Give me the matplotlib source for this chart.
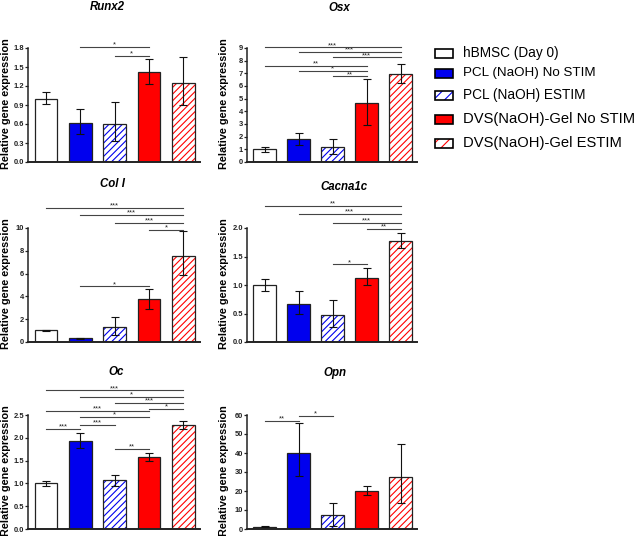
import matplotlib
matplotlib.use("Agg")
import matplotlib.pyplot as plt
from matplotlib.patches import Rectangle
from matplotlib.ticker import FormatStrFormatter, MultipleLocator

plt.rcParams['font.family'] = ['Liberation Sans', 'DejaVu Sans']
plt.rcParams['hatch.linewidth'] = 0.8

groups = ["hBMSC (Day 0)", "PCL (NaOH) No STIM", "PCL (NaOH) ESTIM",
          "DVS(NaOH)-Gel No STIM", "DVS(NaOH)-Gel ESTIM"]
face_colors = ["white", "#0000ee", "white", "#ff0000", "white"]
hatch_colors = [None, None, "#0000ee", None, "#ff0000"]

genes = ["Runx2", "Osx", "Col I", "Cacna1c", "Oc", "Opn"]

runx2_mean = [1.00, 0.61, 0.60, 1.42, 1.25]
runx2_lo = [0.09, 0.17, 0.27, 0.19, 0.35]
runx2_hi = [0.10, 0.22, 0.35, 0.21, 0.41]
runx2_sig = [(1, 3, 1.82, "*"), (2, 3, 1.67, "*")]

osx_mean = [1.00, 1.79, 1.20, 4.66, 6.97]
osx_lo = [0.18, 0.47, 0.58, 1.71, 0.73]
osx_hi = [0.18, 0.50, 0.62, 1.89, 0.77]
osx_sig = [(0, 4, 9.05, "***"), (1, 4, 8.66, "***"), (2, 4, 8.26, "***"),
           (0, 3, 7.61, "**"), (1, 3, 7.18, "*"), (2, 3, 6.76, "**")]

col1_mean = [1.02, 0.32, 1.29, 3.80, 7.51]
col1_lo = [0.07, 0.07, 0.71, 0.93, 1.66]
col1_hi = [0.07, 0.07, 0.93, 0.88, 2.20]
col1_sig = [(0, 4, 11.75, "***"), (1, 4, 11.15, "***"), (2, 4, 10.47, "***"),
            (3, 4, 9.85, "*"), (1, 3, 4.88, "*")]

cacna_mean = [1.00, 0.67, 0.47, 1.13, 1.78]
cacna_lo = [0.10, 0.17, 0.20, 0.13, 0.13]
cacna_hi = [0.11, 0.22, 0.26, 0.17, 0.14]
cacna_sig = [(0, 4, 2.39, "**"), (1, 4, 2.25, "***"), (2, 4, 2.09, "***"),
             (3, 4, 1.98, "**"), (2, 3, 1.36, "*")]

oc_mean = [1.00, 1.94, 1.07, 1.58, 2.27]
oc_lo = [0.05, 0.16, 0.13, 0.09, 0.08]
oc_hi = [0.05, 0.17, 0.11, 0.09, 0.10]
oc_sig = [(0, 4, 3.04, "***"), (1, 4, 2.90, "*"), (2, 4, 2.76, "***"),
          (3, 4, 2.63, "*"), (0, 3, 2.59, "***"), (1, 3, 2.45, "*"),
          (1, 2, 2.29, "***"), (0, 1, 2.19, "***"), (2, 3, 1.75, "**")]

opn_mean = [1.2, 39.8, 7.5, 20.2, 27.5]
opn_lo = [0.3, 11.7, 5.7, 2.1, 13.6]
opn_hi = [0.3, 15.8, 6.2, 2.3, 17.1]
opn_sig = [(0, 1, 57.0, "**"), (1, 2, 59.5, "*")]

means = [runx2_mean, osx_mean, col1_mean, cacna_mean, oc_mean, opn_mean]
lows = [runx2_lo, osx_lo, col1_lo, cacna_lo, oc_lo, opn_lo]
highs = [runx2_hi, osx_hi, col1_hi, cacna_hi, oc_hi, opn_hi]
sigs = [runx2_sig, osx_sig, col1_sig, cacna_sig, oc_sig, opn_sig]
ymaxes = [1.8, 9, 10, 2.0, 2.5, 60]
ysteps = [0.3, 1, 2, 0.5, 0.5, 10]
yfmts = ['%.1f', '%d', '%d', '%.1f', '%.1f', '%d']

W, H = 640, 536
fig = plt.figure(figsize=(W / 100, H / 100), dpi=100)

col_x = [(28, 200), (247, 417)]
row_y = [(48, 162), (228, 342), (415, 529)]
title_pos = [(107, 7), (339, 8), (112, 184), (344, 187), (116, 372), (335, 373)]
ylabel_x = [6, 224]

edge = "#222222"
for k, gene in enumerate(genes):
    r, c = divmod(k, 2)
    x0, x1 = col_x[c]
    yt, yb = row_y[r]
    ax = fig.add_axes([x0 / W, 1 - yb / H, (x1 - x0) / W, (yb - yt) / H])
    xs = list(range(len(groups)))
    m = means[k]
    for i in xs:
        if hatch_colors[i] is not None:
            ax.bar(i, m[i], 0.66, color='white', edgecolor=hatch_colors[i],
                   hatch='/////', linewidth=0, zorder=2)
            ax.bar(i, m[i], 0.66, fill=False, edgecolor=edge, linewidth=0.9, zorder=3)
        else:
            ax.bar(i, m[i], 0.66, color=face_colors[i], edgecolor=edge,
                   linewidth=0.9, zorder=2)
    ax.errorbar(xs, m, yerr=[lows[k], highs[k]], fmt='none', ecolor='#111111',
                elinewidth=0.8, capsize=2.6, capthick=0.8, zorder=4)
    for (i, j, yv, lab) in sigs[k]:
        ax.plot([i, j], [yv, yv], color='#444444', lw=0.8, clip_on=False, zorder=5)
        ax.annotate(lab, xy=((i + j) / 2, yv), xytext=(0, 0.3),
                    textcoords='offset points', ha='center', va='baseline',
                    fontsize=5.5, color='#222222', annotation_clip=False)
    ax.set_xlim(-0.52, 4.48)
    ax.set_ylim(0, ymaxes[k])
    ax.yaxis.set_major_locator(MultipleLocator(ysteps[k]))
    ax.yaxis.set_major_formatter(FormatStrFormatter(yfmts[k]))
    ax.set_xticks([])
    for s in ['top', 'right']:
        ax.spines[s].set_visible(False)
    ax.spines['left'].set_linewidth(1.1)
    ax.spines['bottom'].set_linewidth(1.4)
    ax.spines['left'].set_color(edge)
    ax.spines['bottom'].set_color(edge)
    ax.tick_params(axis='y', length=2, width=0.9, pad=0.8, labelsize=5.4,
                   colors=edge)
    for lbl in ax.get_yticklabels():
        lbl.set_fontweight('bold')
    tx, ty = title_pos[k]
    fig.text(tx / W, 1 - ty / H, gene, ha='center', va='center', fontsize=8.3,
             fontweight='bold', fontstyle='italic')
    fig.text(ylabel_x[c] / W, 1 - ((yt + yb) / 2 - 1) / H, "Relative gene expression",
             rotation=90, ha='center', va='center', fontsize=7.8, fontweight='bold')

# legend
leg_rows = [53, 73, 95, 119, 143]
leg_sizes = [9.8, 9.6, 9.8, 10.6, 10.6]
for i, lab in enumerate(groups):
    yc = leg_rows[i]
    bx, bw, bh = 435, 18, 9
    rect_xy = (bx / W, 1 - (yc + bh / 2) / H)
    if hatch_colors[i] is not None:
        fig.add_artist(Rectangle(rect_xy, bw / W, bh / H, transform=fig.transFigure,
                                 facecolor='white', edgecolor=hatch_colors[i],
                                 hatch='///', linewidth=0))
        fig.add_artist(Rectangle(rect_xy, bw / W, bh / H, transform=fig.transFigure,
                                 fill=False, edgecolor='black', linewidth=1.2))
    else:
        fig.add_artist(Rectangle(rect_xy, bw / W, bh / H, transform=fig.transFigure,
                                 facecolor=face_colors[i], edgecolor='black',
                                 linewidth=1.2))
    fig.text(463 / W, 1 - yc / H, lab, ha='left', va='center',
             fontsize=leg_sizes[i])

fig.savefig("out.png", dpi=100)
